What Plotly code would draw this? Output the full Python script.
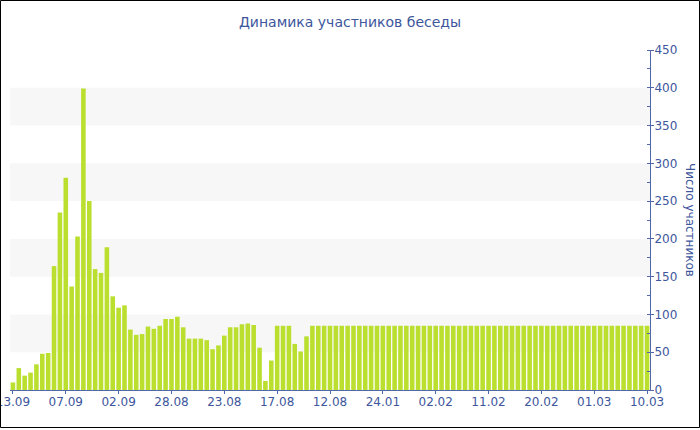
import plotly.graph_objects as go

# ---- data ----
tick_labels = ["13.09", "07.09", "02.09", "28.08", "23.08", "17.08", "12.08",
               "24.01", "02.02", "11.02", "20.02", "01.03", "10.03"]
participants = [
    10, 29, 19, 23, 34, 48, 49, 164, 235, 281,
    137, 203, 399, 250, 160, 155, 189, 124, 109, 112,
    80, 73, 74, 84, 81, 85, 94, 94, 97, 83,
    68, 68, 68, 66, 54, 59, 72, 83, 83, 87,
    88, 86, 56, 12, 39, 85, 85, 85, 61, 51,
    71, 85, 85, 85, 85, 85, 85, 85, 85, 85,
    85, 85, 85, 85, 85, 85, 85, 85, 85, 85,
    85, 85, 85, 85, 85, 85, 85, 85, 85, 85,
    85, 85, 85, 85, 85, 85, 85, 85, 85, 85,
    85, 85, 85, 85, 85, 85, 85, 85, 85, 85,
    85, 85, 85, 85, 85, 85, 85, 85, 85,
]
band_ranges = [(50, 100), (150, 200), (250, 300), (350, 400)]

title_text = "Динамика участников беседы"
y_title = "Число участников"

# ---- styling ----
TEXT = "#3d569c"
AXIS = "#5266aa"
BAR = "#bbdf2f"
FONT = "DejaVu Sans"

x_idx = list(range(len(participants)))
tick_step = 9
tickvals = [i * tick_step for i in range(len(tick_labels))]

fig = go.Figure()
fig.add_trace(go.Bar(
    x=x_idx, y=participants,
    marker=dict(color=BAR, line=dict(width=0)),
    hoverinfo="y",
))

W, H = 700, 430
L, R, T, B = 10, 50, 50, 40
pw, ph = W - L - R, H - T - B

shapes = []
for lo, hi in band_ranges:
    shapes.append(dict(type="rect", xref="paper", yref="y", x0=0, x1=1, y0=lo, y1=hi,
                       fillcolor="#f7f7f7", line=dict(width=0), layer="below"))

def px_to_paper_x(px):
    return (px - L) / pw

def px_to_paper_y(py):
    return (H - B - py) / ph

shapes.append(dict(type="rect", xref="paper", yref="paper",
                   x0=px_to_paper_x(0.5), x1=px_to_paper_x(699.5),
                   y0=px_to_paper_y(427.5), y1=px_to_paper_y(0.5),
                   line=dict(color="black", width=1), fillcolor="rgba(0,0,0,0)"))

fig.update_layout(
    width=W, height=H,
    margin=dict(l=L, r=R, t=T, b=B, autoexpand=False),
    paper_bgcolor="white", plot_bgcolor="white",
    bargap=0.22,
    showlegend=False,
    font=dict(family=FONT, color=TEXT, size=12),
    title=dict(text=title_text, x=0.5, xref="container", xanchor="center",
               y=1 - 22 / H, yref="container", yanchor="middle",
               font=dict(family=FONT, size=14, color=TEXT)),
    xaxis=dict(range=[-0.5, len(participants) - 0.5],
               tickmode="array", tickvals=tickvals, ticktext=tick_labels,
               ticks="outside", ticklen=3, tickcolor=AXIS,
               showline=True, linecolor=AXIS, linewidth=1,
               showgrid=False, zeroline=False, automargin=False,
               ticklabeloverflow="allow", ticklabelstandoff=-2,
               tickfont=dict(family=FONT, size=12, color=TEXT)),
    yaxis=dict(range=[0, 450], side="right", dtick=50, tick0=0,
               ticks="outside", ticklen=3, tickcolor=AXIS,
               showline=True, linecolor=AXIS, linewidth=1,
               showgrid=False, zeroline=False, automargin=False,
               ticklabeloverflow="allow", ticklabelstandoff=-2,
               minor=dict(dtick=25, ticks="inside", ticklen=3, tickcolor=AXIS, showgrid=False),
               tickfont=dict(family=FONT, size=12, color=TEXT)),
    shapes=shapes,
    annotations=[dict(text=y_title, textangle=90, xref="paper", yref="paper",
                      x=px_to_paper_x(690), y=0.5, xanchor="center", yanchor="middle",
                      showarrow=False, font=dict(family=FONT, size=12, color=TEXT))],
)

fig.write_html("out.html",
               config={"displayModeBar": False},
               post_script="document.body.style.margin='0';document.body.style.overflow='hidden';")
